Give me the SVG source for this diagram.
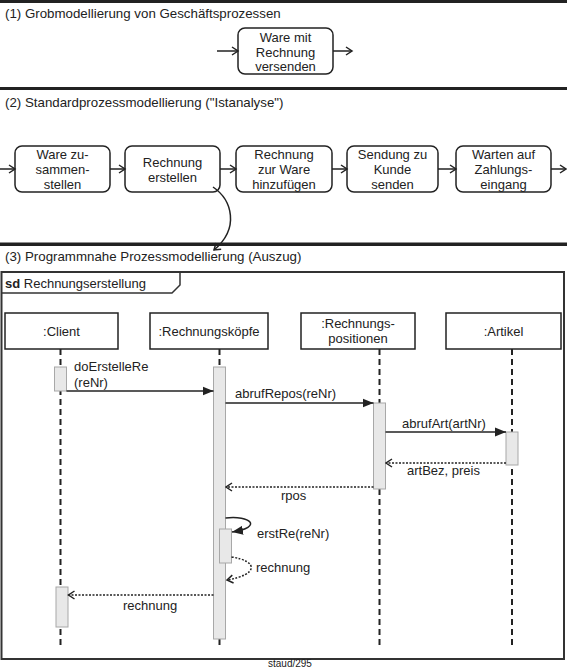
<svg xmlns="http://www.w3.org/2000/svg" width="567" height="669" viewBox="0 0 567 669">
<defs>
<style>
text{font-family:"Liberation Sans",Arial,sans-serif;font-size:13px;fill:#222}
.h{font-size:13.3px}
.c{text-anchor:middle}
.bar{fill:#222}
.pbox{fill:#fff;stroke:#222;stroke-width:1.5}
.lbox{fill:#fff;stroke:#222;stroke-width:1.5}
.life{stroke:#222;stroke-width:2;stroke-dasharray:6,4;fill:none}
.act{fill:#e8e8e8;stroke:#a8a8a8;stroke-width:1}
.flow{stroke:#222;stroke-width:1.5;fill:none;marker-end:url(#open)}
.sync{stroke:#222;stroke-width:1.5;fill:none;marker-end:url(#filled)}
.ret{stroke:#222;stroke-width:1.5;stroke-dasharray:2,1.5;fill:none;marker-end:url(#ropen)}
</style>
<marker id="open" markerWidth="10" markerHeight="10" refX="8" refY="5" orient="auto" markerUnits="userSpaceOnUse">
<path d="M2,1 L8,5 L2,9" fill="none" stroke="#222" stroke-width="1.5"/>
</marker>
<marker id="filled" markerWidth="12" markerHeight="10" refX="11" refY="5" orient="auto" markerUnits="userSpaceOnUse">
<path d="M0,0.5 L11,5 L0,9.5 z" fill="#222"/>
</marker>
<marker id="ropen" markerWidth="10" markerHeight="10" refX="8.5" refY="5" orient="auto" markerUnits="userSpaceOnUse">
<path d="M2.5,1 L8.5,5 L2.5,9" fill="none" stroke="#222" stroke-width="1.5"/>
</marker>
</defs>
<rect width="567" height="669" fill="#fff"/>

<!-- section separators -->
<rect class="bar" x="0" y="0" width="567" height="3"/>
<rect class="bar" x="0" y="87" width="567" height="3"/>
<rect class="bar" x="0" y="242.5" width="567" height="3.5"/>

<text class="h" x="5" y="18">(1) Grobmodellierung von Geschäftsprozessen</text>
<text class="h" x="5" y="107">(2) Standardprozessmodellierung ("Istanalyse")</text>
<text class="h" x="5" y="261">(3) Programmnahe Prozessmodellierung (Auszug)</text>

<!-- section 1 -->
<g id="p1-versenden">
<rect class="pbox" x="238" y="28" width="95" height="46" rx="7"/>
<text class="c" x="285.5" y="42">Ware mit</text>
<text class="c" x="285.5" y="57">Rechnung</text>
<text class="c" x="285.5" y="71">versenden</text>
</g>

<!-- section 2 -->
<g id="p2-zusammenstellen">
<rect class="pbox" x="15" y="146" width="95" height="46" rx="7"/>
<text class="c" x="62.5" y="159">Ware zu-</text>
<text class="c" x="62.5" y="174">sammen-</text>
<text class="c" x="62.5" y="189">stellen</text>
</g>
<g id="p2-erstellen">
<rect class="pbox" x="125" y="146" width="95" height="46" rx="7"/>
<text class="c" x="172.5" y="167">Rechnung</text>
<text class="c" x="172.5" y="182">erstellen</text>
</g>
<g id="p2-hinzufuegen">
<rect class="pbox" x="236" y="146" width="96" height="46" rx="7"/>
<text class="c" x="284" y="159">Rechnung</text>
<text class="c" x="284" y="174">zur Ware</text>
<text class="c" x="284" y="189">hinzufügen</text>
</g>
<g id="p2-senden">
<rect class="pbox" x="347" y="146" width="91" height="46" rx="7"/>
<text class="c" x="392.5" y="159">Sendung zu</text>
<text class="c" x="392.5" y="174">Kunde</text>
<text class="c" x="392.5" y="189">senden</text>
</g>
<g id="p2-warten">
<rect class="pbox" x="456" y="146" width="95" height="46" rx="7"/>
<text class="c" x="503.5" y="159">Warten auf</text>
<text class="c" x="503.5" y="174">Zahlungs-</text>
<text class="c" x="503.5" y="189">eingang</text>
</g>

<!-- section 3: frame -->
<g id="frame">
<rect x="1.5" y="272" width="562.5" height="387" fill="none" stroke="#333" stroke-width="2"/>
<path d="M1.5,293 L172,293 L180,285 L180,272" fill="none" stroke="#333" stroke-width="1.5"/>
<text x="5" y="288"><tspan font-weight="bold">sd</tspan> Rechnungserstellung</text>
</g>

<!-- lifelines -->
<g id="client">
<line class="life" x1="60.5" y1="349" x2="60.5" y2="647"/>
<rect class="lbox" x="5" y="313" width="113" height="36"/>
<text class="c" x="61.5" y="336">:Client</text>
<rect class="act" x="54.5" y="367" width="12" height="24"/>
<rect class="act" x="56" y="587" width="12" height="40"/>
</g>
<g id="rechnungskoepfe">
<line class="life" x1="219.5" y1="349" x2="219.5" y2="645"/>
<rect class="lbox" x="150" y="313" width="118" height="36"/>
<text class="c" x="209" y="336">:Rechnungsköpfe</text>
<rect class="act" x="213.5" y="367" width="12" height="272"/>
<rect class="act" x="219.5" y="529" width="12" height="34"/>
</g>
<g id="rechnungspositionen">
<line class="life" x1="379.5" y1="349" x2="379.5" y2="647"/>
<rect class="lbox" x="301" y="313" width="114" height="36"/>
<text class="c" x="358" y="328">:Rechnungs-</text>
<text class="c" x="358" y="343">positionen</text>
<rect class="act" x="373.5" y="403" width="12" height="86"/>
</g>
<g id="artikel">
<line class="life" x1="512" y1="349" x2="512" y2="647"/>
<rect class="lbox" x="446" y="313" width="115" height="36"/>
<text class="c" x="503.5" y="336">:Artikel</text>
<rect class="act" x="506" y="432" width="12" height="33"/>
</g>

<!-- connectors -->
<g id="connectors">
<line class="flow" x1="217" y1="51" x2="238" y2="51"/>
<line class="flow" x1="333" y1="51" x2="352" y2="51"/>
<line class="flow" x1="0" y1="169" x2="15" y2="169"/>
<line class="flow" x1="110" y1="169" x2="125" y2="169"/>
<line class="flow" x1="220" y1="169" x2="236" y2="169"/>
<line class="flow" x1="332" y1="169" x2="347" y2="169"/>
<line class="flow" x1="438" y1="169" x2="456" y2="169"/>
<line class="flow" x1="551" y1="169" x2="566" y2="169"/>
<path class="flow" d="M213,187 C232,200 240,228 214,250"/>

<line class="sync" x1="66.5" y1="391" x2="213.5" y2="391"/>
<line class="sync" x1="225.5" y1="403" x2="373.5" y2="403"/>
<line class="sync" x1="385.5" y1="432" x2="506" y2="432"/>
<line class="ret" x1="506" y1="463" x2="386" y2="463"/>
<line class="ret" x1="373.5" y1="487" x2="226" y2="487"/>
<path class="sync" d="M225.5,518 C250,515 264,527 232,532"/>
<path class="ret" d="M231.5,557 C259,561 258,575 227,580"/>
<line class="ret" x1="213.5" y1="595" x2="68.5" y2="595"/>

<text x="74" y="371">doErstelleRe</text>
<text x="74" y="387">(reNr)</text>
<text x="235" y="398">abrufRepos(reNr)</text>
<text x="402" y="428">abrufArt(artNr)</text>
<text x="407" y="475">artBez, preis</text>
<text x="281" y="500">rpos</text>
<text x="257" y="538">erstRe(reNr)</text>
<text x="256" y="572">rechnung</text>
<text x="123" y="610">rechnung</text>
</g>

<text x="268" y="667" style="font-size:10px">staud/295</text>
</svg>
